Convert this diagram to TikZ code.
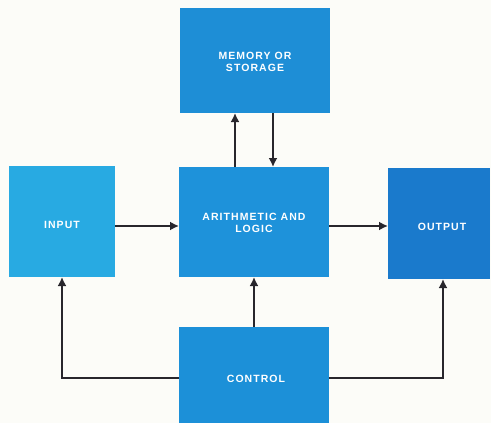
\documentclass[tikz,border=0pt]{standalone}
\usepackage{fontspec}
\setmainfont{Liberation Sans}
\usetikzlibrary{arrows.meta}
\definecolor{bg}{RGB}{252,252,248}
\definecolor{cmem}{RGB}{30,142,214}
\definecolor{carith}{RGB}{30,146,218}
\definecolor{cinput}{RGB}{40,170,226}
\definecolor{coutput}{RGB}{26,122,204}
\definecolor{cctrl}{RGB}{28,144,216}
\definecolor{line}{RGB}{40,38,44}
\tikzset{
  blk/.style={draw=none, minimum width=#1, inner sep=0pt, font=\fontsize{10.5}{12}\selectfont\bfseries\addfontfeatures{LetterSpace=10}, text=white, align=center},
  conn/.style={draw=line, line width=2.5pt, -{Latex[length=9pt,width=9pt]}},
}
\begin{document}
\begin{tikzpicture}[x=1pt,y=-1pt]
\fill[bg] (0,0) rectangle (491,423);
\useasboundingbox (0,0) rectangle (491,423);
% boxes
\fill[cmem] (180,8) rectangle (330,113);
\fill[carith] (179,167) rectangle (329,277);
\fill[cinput] (9,166) rectangle (115,277);
\fill[coutput] (388,168) rectangle (490,279);
\fill[cctrl] (179,327) rectangle (329,423);
\node[blk=150pt] (mem) at (255,62) {MEMORY OR\\STORAGE};
\node[blk=150pt] (ari) at (254,223) {ARITHMETIC AND\\LOGIC};
\node[blk=100pt] (inp) at (62,225) {INPUT};
\node[blk=100pt] (out) at (442,227) {OUTPUT};
\node[blk=150pt] (ctl) at (256,379) {CONTROL};
% anchor coordinates
\coordinate (memB1) at (235,113);
\coordinate (memB2) at (273,113);
\coordinate (ariT1) at (235,167);
\coordinate (ariT2) at (273,167);
\coordinate (ariL) at (179,226);
\coordinate (ariR) at (329,226);
\coordinate (ariB) at (254,277);
\coordinate (inpR) at (115,226);
\coordinate (inpB) at (62,277);
\coordinate (outL) at (388,226);
\coordinate (outB) at (443,279);
\coordinate (ctlT) at (254,327);
\coordinate (ctlL) at (179,378);
\coordinate (ctlR) at (329,378);
% connectors
\draw[conn] (ariT1) -- (memB1);
\draw[conn] (memB2) -- (ariT2);
\draw[conn] (inpR) -- (ariL);
\draw[conn] (ariR) -- (outL);
\draw[conn] (ctlT) -- (ariB);
\draw[conn] (ctlL) -- (62,378) -- (inpB);
\draw[conn] (ctlR) -- (443,378) -- (outB);
\end{tikzpicture}
\end{document}
